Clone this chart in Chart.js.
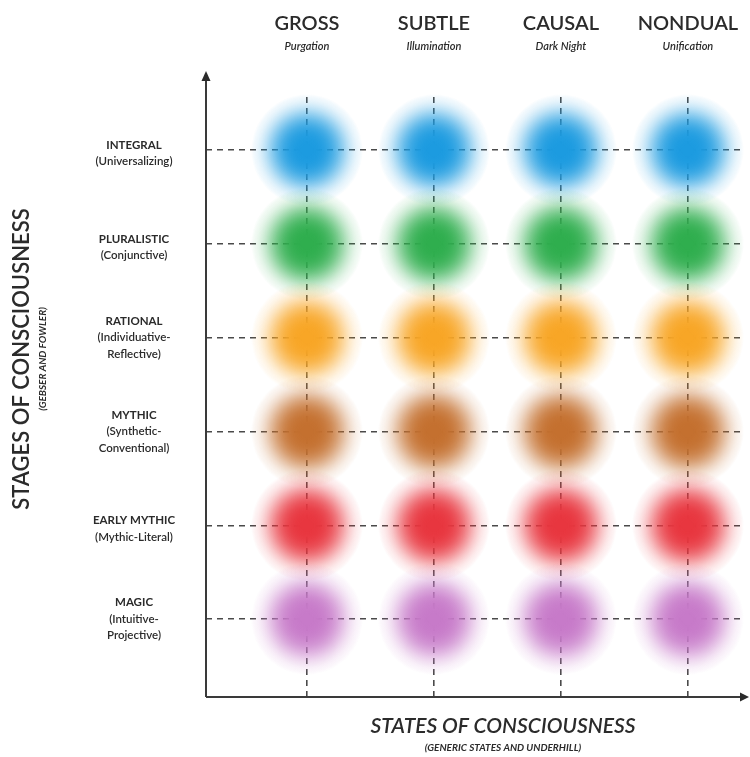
<!DOCTYPE html>
<html>
<head>
<meta charset="utf-8">
<script src="https://cdn.jsdelivr.net/npm/chart.js@4/dist/chart.umd.min.js"></script>
<style>
  html, body { margin: 0; padding: 0; background: #fff; }
  #wrap { width: 750px; height: 757px; position: relative; }
</style>
</head>
<body>
<div id="wrap"><canvas id="chart" width="750" height="757"></canvas></div>
<script>
// states (columns) and stages (rows)
const states = ["GROSS", "SUBTLE", "CAUSAL", "NONDUAL"];
const stateNotes = ["Purgation", "Illumination", "Dark Night", "Unification"];
const stages = ["MAGIC", "EARLY MYTHIC", "MYTHIC", "RATIONAL", "PLURALISTIC", "INTEGRAL"];
const stageNotes = [
  ["(Intuitive-", "Projective)"],
  ["(Mythic-Literal)"],
  ["(Synthetic-", "Conventional)"],
  ["(Individuative-", "Reflective)"],
  ["(Conjunctive)"],
  ["(Universalizing)"]
];
const stageColors = ["#c77ac9", "#e8363f", "#c4702f", "#f8a626", "#2fae4e", "#1c9be0"];

const font = "Lato, 'Open Sans', sans-serif";
const ink = "#2b2b2b";

// soft round blob used as point style
function makeBlob(color) {
  const size = 112;
  const c = document.createElement("canvas");
  c.width = size; c.height = size;
  const g = c.getContext("2d");
  const r = size / 2;
  const rgb = [1, 3, 5].map(k => parseInt(color.slice(k, k + 2), 16)).join(",");
  const grad = g.createRadialGradient(r, r, 0, r, r, r);
  for (let k = 0; k <= 20; k++) {
    const t = k / 20;
    const a = Math.exp(-Math.pow(t / 0.7, 3.5));
    grad.addColorStop(t, "rgba(" + rgb + "," + (k === 20 ? 0 : a.toFixed(3)) + ")");
  }
  g.fillStyle = grad;
  g.fillRect(0, 0, size, size);
  return c;
}

const datasets = stages.map((s, i) => ({
  label: s,
  data: states.map((st, j) => ({ x: j + 1, y: i + 1 })),
  pointStyle: makeBlob(stageColors[i]),
  pointRadius: 50,
  pointHoverRadius: 50,
  clip: false
}));

// axis titles, category labels, arrows
const decorations = {
  id: "decorations",
  afterDraw(chart) {
    const ctx = chart.ctx;
    const area = chart.chartArea;
    const xs = chart.scales.x, ys = chart.scales.y;
    ctx.save();

    // axes with arrowheads
    ctx.strokeStyle = "#3a3a3a";
    ctx.fillStyle = "#2a2a2a";
    ctx.lineWidth = 2;
    ctx.beginPath();
    ctx.moveTo(area.left, area.bottom);
    ctx.lineTo(area.left, area.top - 18);
    ctx.moveTo(area.left, area.bottom);
    ctx.lineTo(area.right + 2, area.bottom);
    ctx.stroke();
    ctx.beginPath();
    ctx.moveTo(area.left, area.top - 26);
    ctx.lineTo(area.left - 4.5, area.top - 16);
    ctx.lineTo(area.left + 4.5, area.top - 16);
    ctx.closePath();
    ctx.fill();
    ctx.beginPath();
    ctx.moveTo(area.right + 9, area.bottom);
    ctx.lineTo(area.right, area.bottom - 4.5);
    ctx.lineTo(area.right, area.bottom + 4.5);
    ctx.closePath();
    ctx.fill();

    // column headers
    ctx.fillStyle = ink;
    ctx.textAlign = "center";
    ctx.textBaseline = "alphabetic";
    states.forEach((s, j) => {
      const px = xs.getPixelForValue(j + 1);
      ctx.font = "600 20px " + font;
      ctx.fillText(s, px, 30);
      ctx.font = "italic 600 11px " + font;
      ctx.fillText(stateNotes[j], px, 50);
    });

    // row labels
    ctx.textBaseline = "middle";
    stages.forEach((s, i) => {
      const py = ys.getPixelForValue(i + 1);
      const lines = [s].concat(stageNotes[i]);
      const lh = 16.5;
      const top = lines.length === 2 ? py - 5 : py - lh;
      lines.forEach((t, k) => {
        ctx.font = (k === 0 ? "700 11.5px " : "600 11.5px ") + font;
        ctx.fillText(t, 134, top + k * lh);
      });
    });

    // y axis title
    ctx.save();
    ctx.translate(22, 359);
    ctx.rotate(-Math.PI / 2);
    ctx.font = "600 22px " + font;
    ctx.fillText("STAGES OF CONSCIOUSNESS", 0, 0);
    ctx.font = "italic 700 10px " + font;
    ctx.fillText("(GEBSER AND FOWLER)", 0, 21);
    ctx.restore();

    // x axis title
    ctx.font = "italic 600 21px " + font;
    ctx.fillText("STATES OF CONSCIOUSNESS", 503, 726);
    ctx.font = "italic 700 10px " + font;
    ctx.fillText("(GENERIC STATES AND UNDERHILL)", 503, 748);

    ctx.restore();
  }
};

const dash = {
  display: true,
  drawOnChartArea: true,
  drawTicks: false,
  color: "#4a4a4a",
  lineWidth: 1.6
};

new Chart(document.getElementById("chart"), {
  type: "scatter",
  data: { datasets: datasets },
  options: {
    responsive: false,
    animation: false,
    layout: { autoPadding: false, padding: { left: 206, top: 97, right: 10, bottom: 60 } },
    plugins: { legend: { display: false }, tooltip: { enabled: false } },
    scales: {
      x: {
        type: "linear",
        min: 0.205,
        max: 4.41,
        z: 1,
        afterBuildTicks: s => { s.ticks = states.map((st, j) => ({ value: j + 1 })); },
        ticks: { display: false },
        grid: dash,
        border: { display: false, dash: [6, 5] }
      },
      y: {
        type: "linear",
        min: 0.17,
        max: 6.565,
        z: 1,
        afterBuildTicks: s => { s.ticks = stages.map((st, i) => ({ value: i + 1 })); },
        ticks: { display: false },
        grid: dash,
        border: { display: false, dash: [6, 5] }
      }
    }
  },
  plugins: [decorations]
});
</script>
</body>
</html>
